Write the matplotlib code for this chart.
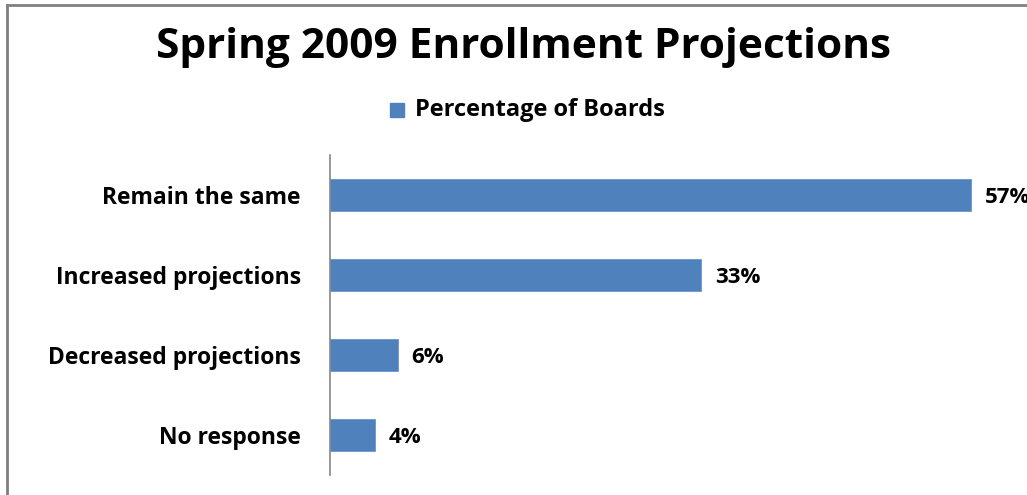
import matplotlib
matplotlib.use("Agg")
import matplotlib.pyplot as plt
from matplotlib.lines import Line2D

categories = ["Remain the same", "Increased projections", "Decreased projections", "No response"]
percentages = [57, 33, 6, 4]
series_name = "Percentage of Boards"
title = "Spring 2009 Enrollment Projections"

bar_color = "#4F81BD"
font = "Open Sans"

fig = plt.figure(figsize=(10.27, 4.95), dpi=100)
W, H = 1027, 495

# frame around the chart area (left and top edges)
fig.add_artist(Line2D([7 / W, 7 / W], [0, 1 - 5 / H], color="#808080", lw=2))
fig.add_artist(Line2D([7 / W, 1], [1 - 5 / H, 1 - 5 / H], color="#808080", lw=2))

ax = fig.add_axes([330 / W, 1 - 475 / H, (1005 - 330) / W, 320 / H])
y = list(range(len(categories)))
ax.barh(y, percentages, height=0.4, color=bar_color, edgecolor="#6A95CC", linewidth=0.6)
ax.set_ylim(len(categories) - 0.5, -0.5)
ax.set_xlim(0, 60)
ax.set_yticks(y)
ax.set_yticklabels(categories, fontsize=16.5, fontweight="bold", family=font)
ax.tick_params(axis="y", length=0, pad=21)
ax.set_xticks([])
for s in ["top", "right", "bottom"]:
    ax.spines[s].set_visible(False)
ax.spines["left"].set_color("#868686")
ax.spines["left"].set_linewidth(1.2)

for yi, v in zip(y, percentages):
    ax.annotate(f"{v}%", (v, yi), xytext=(10, -1.5), textcoords="offset points",
                va="center", ha="left", fontsize=16, fontweight="bold",
                family=font, annotation_clip=False)

fig.text(523 / W, 1 - 48 / H, title, ha="center", va="center",
         fontsize=30.5, fontweight="bold", family=font)

# legend entry
fig.patches.append(plt.Rectangle((390 / W, 1 - 117 / H), 14 / W, 14 / H,
                                 transform=fig.transFigure, color=bar_color))
fig.text(415 / W, 1 - 110 / H, series_name, ha="left", va="center",
         fontsize=17, fontweight="bold", family=font)

fig.savefig("out.png", dpi=100, facecolor="white")
